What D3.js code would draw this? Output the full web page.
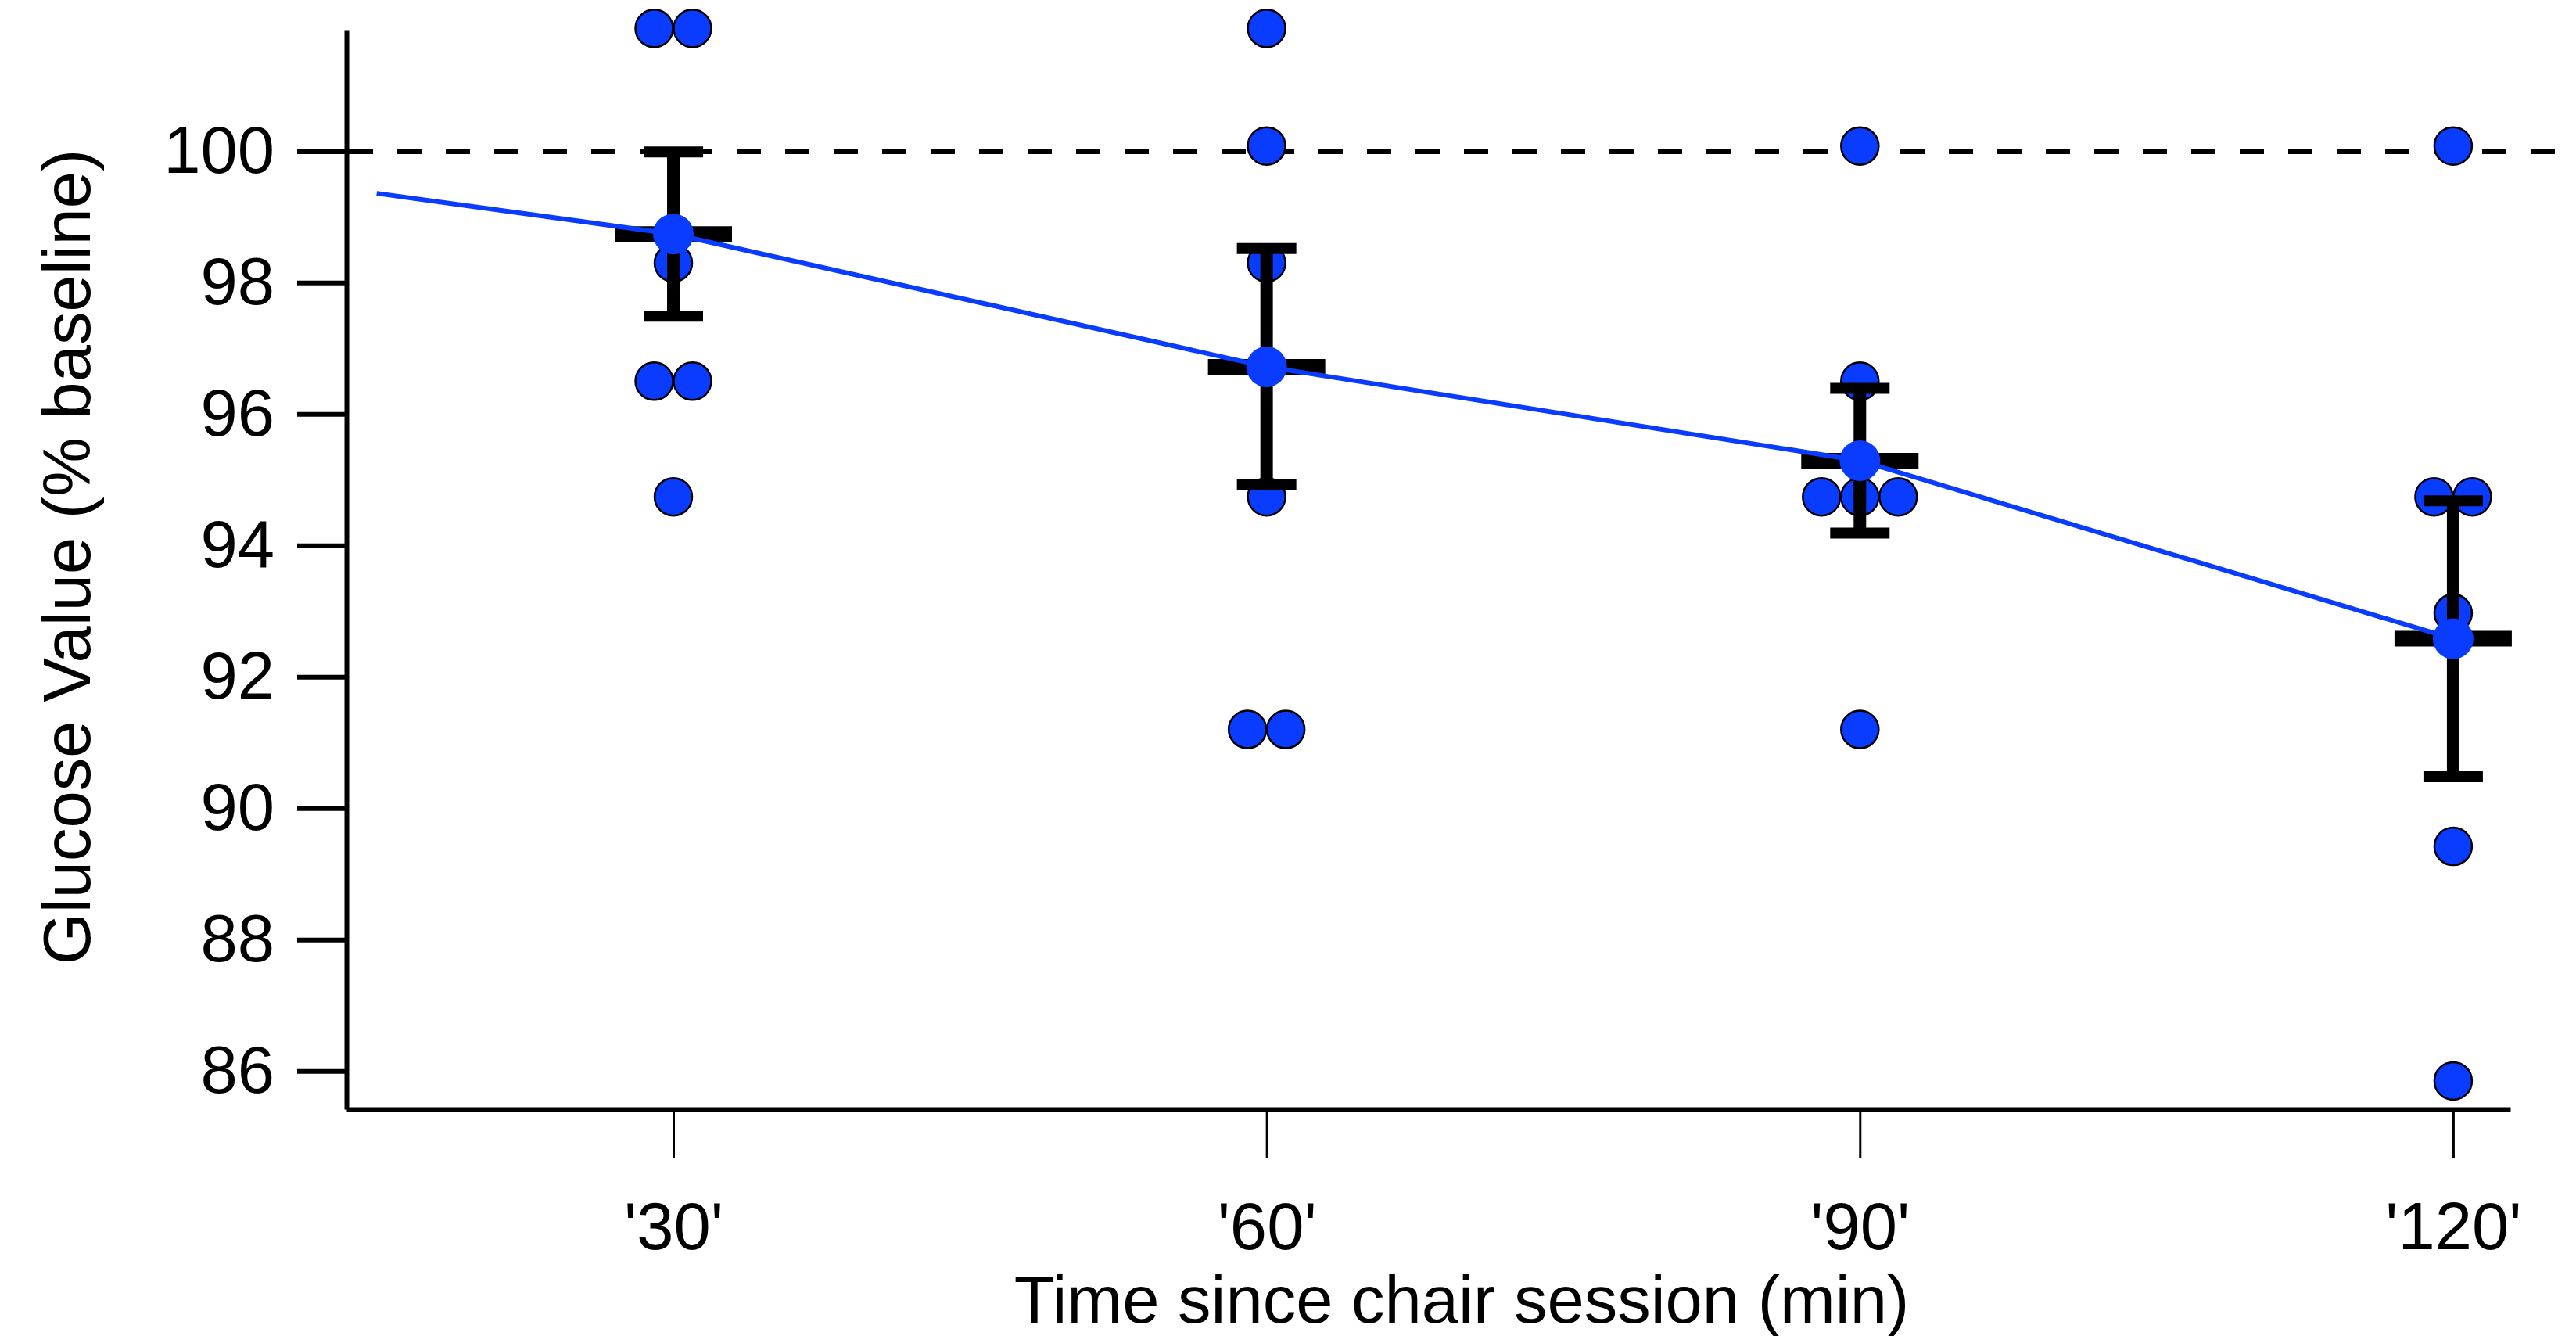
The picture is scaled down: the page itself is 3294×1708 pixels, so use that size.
<!DOCTYPE html>
<html>
  <head>
    <meta charset="utf-8">
    <title>Glucose value after chair session</title>
    <style>
      body { margin: 0; background: white; }
      text { font-family: "Liberation Sans", Arial, sans-serif; fill: black; }
      .axis text { font-size: 85px; }
      .axis-title { font-size: 85px; }
    </style>
  </head>
  <body>
    <script src="https://d3js.org/d3.v7.min.js"></script>
    <script>
      // time points (min) and their tick labels
      const times = [30, 60, 90, 120];
      const xTickLabels = ["'30'", "'60'", "'90'", "'120'"];
      const yTicks = [86, 88, 90, 92, 94, 96, 98, 100];

      // individual subjects, % of baseline
      const dots30 = [101.87, 101.87, 98.3, 96.5, 96.5, 94.74];
      const dots60 = [101.87, 100.08, 98.3, 94.74, 91.2, 91.2];
      const dots90 = [100.08, 96.5, 94.74, 94.74, 94.74, 91.2];
      const dots120 = [100.08, 94.74, 94.74, 92.97, 89.42, 85.85];

      // group mean and error
      const means = [98.74, 96.72, 95.29, 92.58];
      const errs = [1.25, 1.8, 1.1, 2.1];

      // blue trend line
      const lineT = [15, 30, 60, 90, 120];
      const lineV = [99.36, 98.74, 96.72, 95.29, 92.58];

      const baseline = 100;

      const width = 3294;
      const height = 1708;
      const blue = "#0a3cff";

      const svg = d3.select("body")
        .append("svg")
        .attr("width", width)
        .attr("height", height);

      svg.append("rect")
        .attr("width", width)
        .attr("height", height)
        .attr("fill", "white");

      const x = d3.scaleLinear()
        .domain([13.47, 122.89])
        .range([443, 3210]);

      const y = d3.scaleLinear()
        .domain([85.42, 101.85])
        .range([1418, 38]);

      // axes
      const yAxis = svg.append("g")
        .attr("class", "axis")
        .attr("transform", "translate(443,0)")
        .call(d3.axisLeft(y)
          .tickValues(yTicks)
          .tickSize(63)
          .tickSizeOuter(0)
          .tickPadding(29));
      yAxis.selectAll("path, line")
        .attr("stroke", "black")
        .attr("stroke-width", 6);

      const xAxis = svg.append("g")
        .attr("class", "axis")
        .attr("transform", "translate(0,1418)")
        .call(d3.axisBottom(x)
          .tickValues(times)
          .tickFormat((d, i) => xTickLabels[i])
          .tickSize(62)
          .tickSizeOuter(0)
          .tickPadding(57));
      xAxis.select(".domain")
        .attr("stroke", "black")
        .attr("stroke-width", 6);
      xAxis.selectAll(".tick line")
        .attr("stroke", "black")
        .attr("stroke-width", 3);

      // baseline reference
      svg.append("line")
        .attr("x1", x.range()[0] + 3)
        .attr("x2", width)
        .attr("y1", y(baseline))
        .attr("y2", y(baseline))
        .attr("stroke", "black")
        .attr("stroke-width", 7)
        .attr("stroke-dasharray", "31,31");

      // subject dots, duplicates spread sideways
      const groups = [dots30, dots60, dots90, dots120];
      const pts = [];
      groups.forEach((vals, gi) => {
        const counts = d3.rollup(vals, v => v.length, v => v);
        const seen = new Map();
        vals.forEach(v => {
          const k = counts.get(v);
          const i = seen.get(v) || 0;
          seen.set(v, i + 1);
          pts.push({ t: times[gi], v: v, off: (i - (k - 1) / 2) * 49 });
        });
      });

      svg.selectAll(".dot")
        .data(pts)
        .enter()
        .append("circle")
        .attr("class", "dot")
        .attr("cx", d => x(d.t) + d.off)
        .attr("cy", d => y(d.v))
        .attr("r", 24)
        .attr("fill", blue)
        .attr("stroke", "black")
        .attr("stroke-width", 2.5);

      // error bars
      const eb = svg.append("g");
      times.forEach((t, i) => {
        const cx = x(t);
        eb.append("line")
          .attr("x1", cx).attr("x2", cx)
          .attr("y1", y(means[i] + errs[i]))
          .attr("y2", y(means[i] - errs[i]))
          .attr("stroke", "black")
          .attr("stroke-width", 16);
        [means[i] + errs[i], means[i] - errs[i]].forEach(v => {
          eb.append("line")
            .attr("x1", cx - 38).attr("x2", cx + 38)
            .attr("y1", y(v)).attr("y2", y(v))
            .attr("stroke", "black")
            .attr("stroke-width", 14);
        });
        eb.append("line")
          .attr("x1", cx - 75).attr("x2", cx + 75)
          .attr("y1", y(means[i])).attr("y2", y(means[i]))
          .attr("stroke", "black")
          .attr("stroke-width", 20);
      });

      // trend line
      const line = d3.line()
        .x((d, i) => x(lineT[i]))
        .y(d => y(d));
      svg.append("path")
        .datum(lineV)
        .attr("d", line)
        .attr("fill", "none")
        .attr("stroke", blue)
        .attr("stroke-width", 6);

      // mean markers
      svg.selectAll(".mean")
        .data(means)
        .enter()
        .append("circle")
        .attr("class", "mean")
        .attr("cx", (d, i) => x(times[i]))
        .attr("cy", d => y(d))
        .attr("r", 26)
        .attr("fill", blue);

      // axis titles
      svg.append("text")
        .attr("class", "axis-title")
        .attr("text-anchor", "middle")
        .attr("x", 1869)
        .attr("y", 1691)
        .text("Time since chair session (min)");

      svg.append("text")
        .attr("class", "axis-title")
        .attr("text-anchor", "middle")
        .attr("transform", "translate(115,712) rotate(-90)")
        .text("Glucose Value (% baseline)");
    </script>
  </body>
</html>
